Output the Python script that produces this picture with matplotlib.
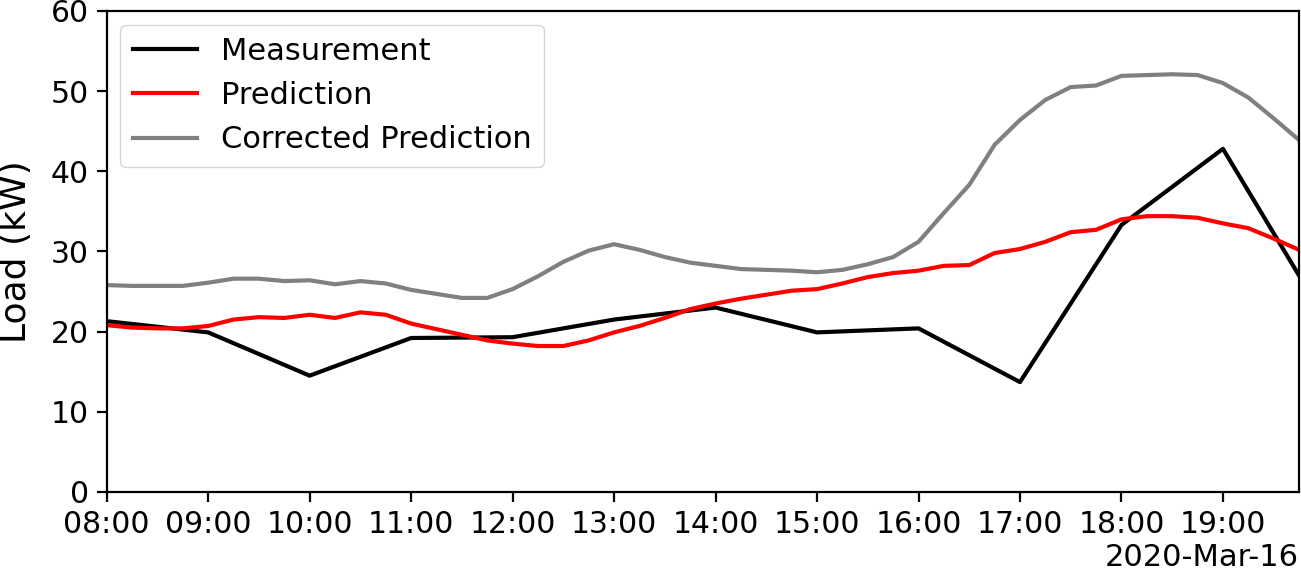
import numpy as np
import pandas as pd
import matplotlib
matplotlib.use("Agg")
import matplotlib.pyplot as plt
import matplotlib.dates as mdates

# hourly measurements (last one at 19:45)
meas_times = ["08:00", "09:00", "10:00", "11:00", "12:00", "13:00", "14:00",
              "15:00", "16:00", "17:00", "18:00", "19:00", "19:45"]
measurement = [21.3, 19.9, 14.5, 19.2, 19.3, 21.5, 23.0,
               19.9, 20.4, 13.7, 33.3, 42.8, 27.0]

# 15-minute predictions, 08:00 .. 19:45
prediction = [20.8, 20.5, 20.4, 20.4, 20.7, 21.5, 21.8, 21.7,
              22.1, 21.7, 22.4, 22.1, 21.0, 20.3, 19.6, 18.9,
              18.5, 18.2, 18.2, 18.9, 19.9, 20.7, 21.7, 22.8,
              23.5, 24.1, 24.6, 25.1, 25.3, 26.0, 26.8, 27.3,
              27.6, 28.2, 28.3, 29.8, 30.3, 31.2, 32.4, 32.7,
              34.0, 34.4, 34.4, 34.2, 33.5, 32.9, 31.6, 30.2]
corrected = [25.8, 25.7, 25.7, 25.7, 26.1, 26.6, 26.6, 26.3,
             26.4, 25.9, 26.3, 26.0, 25.2, 24.7, 24.2, 24.2,
             25.3, 26.9, 28.7, 30.1, 30.9, 30.2, 29.3, 28.6,
             28.2, 27.8, 27.7, 27.6, 27.4, 27.7, 28.4, 29.3,
             31.2, 34.8, 38.3, 43.3, 46.4, 48.9, 50.5, 50.7,
             51.9, 52.0, 52.1, 52.0, 51.0, 49.2, 46.6, 43.9]

day = "2020-03-16"
t_meas = pd.to_datetime([f"{day} {t}" for t in meas_times])
t_pred = pd.date_range(f"{day} 08:00", periods=len(prediction), freq="15min")

plt.rcParams["font.size"] = 21
plt.rcParams["axes.linewidth"] = 1.6

fig = plt.figure(figsize=(13.01, 5.76), dpi=100)
ax = fig.add_axes([0.082, 0.146, 0.9165, 0.835])
ax.plot(t_meas, measurement, color="black", lw=3, label="Measurement")
ax.plot(t_pred, prediction, color="red", lw=3, label="Prediction")
ax.plot(t_pred, corrected, color="grey", lw=3, label="Corrected Prediction")

ax.set_ylim(0, 60)
ax.set_xlim(t_pred[0], t_pred[-1])
ax.set_ylabel("Load (kW)", fontsize=26)
ax.yaxis.set_label_coords(-0.062, 0.5)

loc = mdates.HourLocator()
ax.xaxis.set_major_locator(loc)
ax.xaxis.set_major_formatter(mdates.ConciseDateFormatter(loc))
ax.tick_params(labelsize=21.5, length=7, width=1.6, pad=6)
ax.xaxis.get_offset_text().set_fontsize(22)
ax.legend(loc="upper left", fontsize=22, handlelength=2.1,
          handletextpad=0.78, borderaxespad=0.45)

fig.savefig("out.png", dpi=100)
